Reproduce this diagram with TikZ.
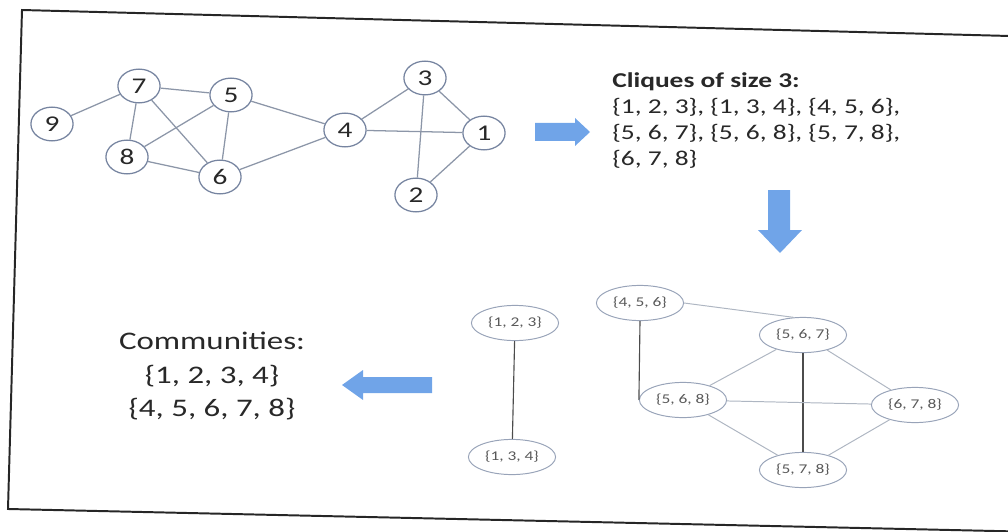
\documentclass[tikz,border=0pt]{standalone}
\usepackage{fontspec}
\setmainfont{Carlito}[FakeStretch=1.3]
\usetikzlibrary{shapes.geometric}
\definecolor{figE}{RGB}{118,132,160}
\definecolor{figL}{RGB}{140,150,168}
\definecolor{figA}{RGB}{112,164,232}
\definecolor{figT}{RGB}{40,40,40}

\begin{document}
\begin{tikzpicture}[x=0.025cm,y=-0.025cm,
  vtx/.style={ellipse,draw=figE,line width=0.9pt,minimum width=30pt,minimum height=24pt,inner sep=0pt,text=figT,font=\fontsize{16}{16}\selectfont},
  clq/.style={ellipse,draw=figE!75,line width=0.7pt,minimum width=62pt,minimum height=25pt,inner sep=0pt,text=black!65,font=\fontsize{9.5}{10}\selectfont},
  edge/.style={figL,line width=0.9pt},
  strong/.style={black!70,line width=0.8pt},
  faint/.style={figL!70,line width=0.7pt}]
\useasboundingbox (0,0) rectangle (1008,532);
\draw[black!85,line width=1.4pt] (1040,36.8) -- (22,10) -- (8,509) -- (1040,532);
% input graph
\node[vtx] (g9) at (52,124) {9};
\node[vtx] (g7) at (139,86) {7};
\node[vtx] (g5) at (231,95) {5};
\node[vtx] (g8) at (127,157) {8};
\node[vtx] (g6) at (220,177) {6};
\node[vtx] (g4) at (345,130) {4};
\node[vtx] (g3) at (425,78) {3};
\node[vtx] (g1) at (484,133) {1};
\node[vtx] (g2) at (416,195) {2};
\foreach \a/\b in {9/7,7/5,7/8,7/6,5/8,5/6,5/4,8/6,6/4,4/3,4/1,3/1,3/2,1/2}
  \draw[edge] (g\a) -- (g\b);
\fill[figA] (535,123) -- (575,123) -- (575,118) -- (590,132) -- (575,146) -- (575,141) -- (535,141) -- cycle;
\node[anchor=north west,align=left,inner sep=0pt,text=figT,font=\fontsize{15}{18.5}\selectfont] (cliq) at (612,72)
  {\textbf{Cliques of size 3:}\\ \{1, 2, 3\}, \{1, 3, 4\}, \{4, 5, 6\},\\ \{5, 6, 7\}, \{5, 6, 8\}, \{5, 7, 8\},\\ \{6, 7, 8\}};
\fill[figA] (768,190) -- (790,190) -- (790,230) -- (802,230) -- (780,253) -- (758,230) -- (768,230) -- cycle;
% clique graph
\node[clq] (c123) at (515,323) {\{1, 2, 3\}};
\node[clq] (c134) at (512,457) {\{1, 3, 4\}};
\node[clq] (c456) at (640,303) {\{4, 5, 6\}};
\node[clq] (c567) at (803,335) {\{5, 6, 7\}};
\node[clq] (c568) at (683,400) {\{5, 6, 8\}};
\node[clq] (c678) at (915,405) {\{6, 7, 8\}};
\node[clq] (c578) at (803,470) {\{5, 7, 8\}};
\draw[strong] (c123) -- (c134);
\draw[strong] (c456.south) -- (c568.west);
\draw[strong] (c567) -- (c578);
\draw[faint] (c456.east) -- (c567.118);
\foreach \a/\b in {567/568,567/678,568/678,568/578,678/578}
  \draw[faint] (c\a) -- (c\b);
\fill[figA] (432,377) -- (363,377) -- (363,370) -- (342,385) -- (363,400) -- (363,393) -- (432,393) -- cycle;
\node[align=center,text=figT,font=\fontsize{18}{23.5}\selectfont] (comm) at (212,376)
  {Communities:\\ \{1, 2, 3, 4\}\\ \{4, 5, 6, 7, 8\}};
\end{tikzpicture}
\end{document}
